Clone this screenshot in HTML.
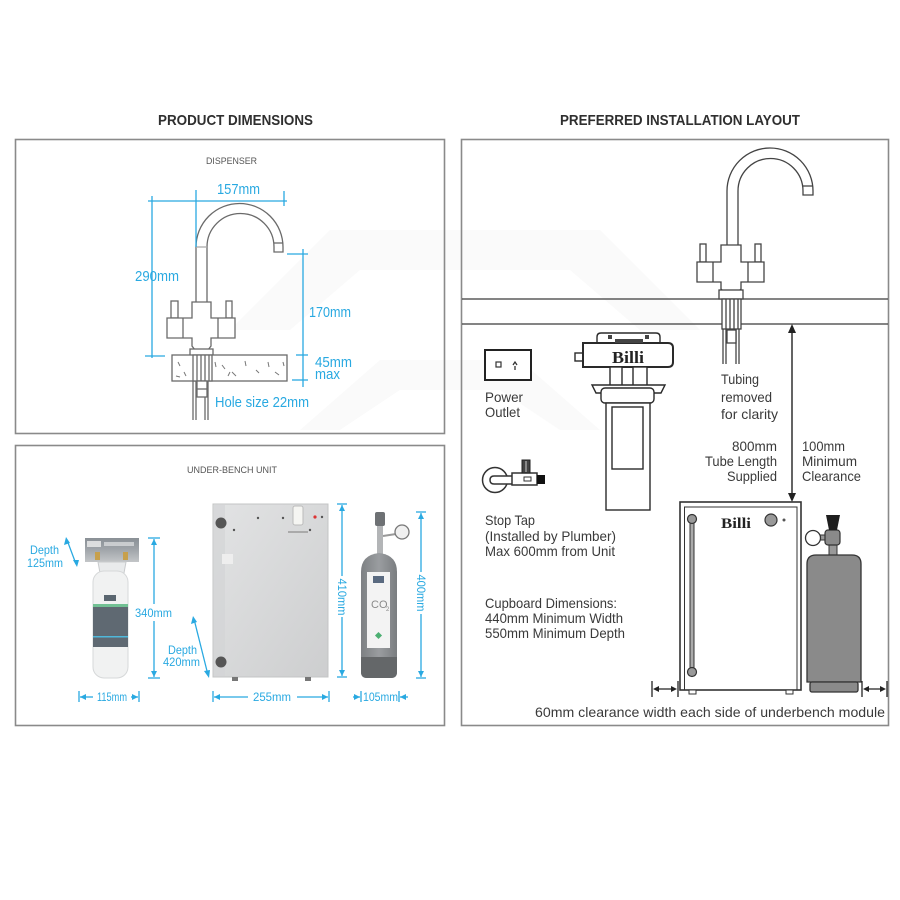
<!DOCTYPE html>
<html><head><meta charset="utf-8"><style>
html,body{margin:0;padding:0;background:#fff;}
svg{display:block}
text{font-family:"Liberation Sans",sans-serif;}
text.serif{font-family:"Liberation Serif",serif;font-weight:bold;}
</style></head><body>
<svg width="900" height="900" viewBox="0 0 900 900" xmlns="http://www.w3.org/2000/svg">
<defs>
<linearGradient id="ug" x1="0" y1="0" x2="1" y2="1">
<stop offset="0" stop-color="#e2e3e4"/><stop offset="1" stop-color="#cdcecf"/></linearGradient>
<linearGradient id="fh" x1="0" y1="0" x2="0" y2="1">
<stop offset="0" stop-color="#8a9096"/><stop offset="0.45" stop-color="#9ea3a8"/><stop offset="1" stop-color="#c3c6c8"/></linearGradient>
<linearGradient id="bt" x1="0" y1="0" x2="1" y2="0">
<stop offset="0" stop-color="#7d8083"/><stop offset="0.5" stop-color="#9a9da0"/><stop offset="1" stop-color="#7a7d80"/></linearGradient>
</defs>

<!-- faint watermark -->
<g fill="#fafafa">
<polygon points="230,330 330,230 600,230 700,330 640,330 570,270 360,270 290,330"/>
<polygon points="300,430 380,360 520,360 600,430 560,430 500,390 400,390 340,430"/>
</g>

<!-- Titles -->
<text x="158" y="125" font-size="15" font-weight="bold" fill="#2f2f2f" textLength="155" lengthAdjust="spacingAndGlyphs">PRODUCT DIMENSIONS</text>
<text x="560" y="125" font-size="15" font-weight="bold" fill="#2f2f2f" textLength="240" lengthAdjust="spacingAndGlyphs">PREFERRED INSTALLATION LAYOUT</text>

<!-- Panels -->
<g fill="none" stroke="#8a8a8a" stroke-width="1.6">
<rect x="15.5" y="139.5" width="429" height="294"/>
<rect x="15.5" y="445.5" width="429" height="280"/>
<rect x="461.5" y="139.5" width="427" height="586"/>
</g>

<!-- ===== DISPENSER ===== -->
<text x="206" y="164" font-size="9.5" fill="#555" textLength="51" lengthAdjust="spacingAndGlyphs">DISPENSER</text>

<g fill="#fff" stroke="#6a6a6a" stroke-width="1.3">
<path d="M196,302 V247 A43.5,43.5 0 0 1 283,247 V252 H274 V247 A33.5,33.5 0 0 0 207,247 V302"/>
<line x1="274" y1="243" x2="283" y2="243"/>
<line x1="196" y1="247" x2="207" y2="247" stroke="#aaa"/>
<rect x="171" y="301" width="7" height="17"/>
<rect x="226" y="301" width="6" height="17"/>
<path d="M192,302 H211 V318 H235 V338 H211 V346 L208,350 H195 L192,346 V338 H167 V318 H192 Z"/>
<line x1="183" y1="318" x2="183" y2="338"/>
<line x1="218" y1="318" x2="218" y2="338"/>
<rect x="190" y="349" width="23" height="7"/>
<rect x="172" y="355" width="115" height="26"/>
<rect x="193" y="355" width="19" height="26"/>
<line x1="197" y1="355" x2="197" y2="381"/>
<line x1="201" y1="355" x2="201" y2="381"/>
<line x1="205" y1="355" x2="205" y2="381"/>
<line x1="209" y1="355" x2="209" y2="381"/>
<line x1="193" y1="381" x2="193" y2="420"/>
<line x1="196" y1="381" x2="196" y2="420"/>
<line x1="205" y1="381" x2="205" y2="420"/>
<line x1="208" y1="381" x2="208" y2="420"/>
<rect x="197" y="381" width="10" height="16"/>
<line x1="197" y1="389" x2="207" y2="389"/>
</g>
<g stroke="#777" stroke-width="1">
<line x1="178" y1="362" x2="180" y2="366"/><line x1="184" y1="372" x2="186" y2="376"/>
<line x1="176" y1="376" x2="180" y2="377"/><line x1="215" y1="362" x2="216" y2="367"/>
<line x1="222" y1="365" x2="225" y2="369"/><line x1="232" y1="372" x2="236" y2="376"/>
<line x1="245" y1="361" x2="246" y2="366"/><line x1="256" y1="370" x2="259" y2="373"/>
<line x1="268" y1="362" x2="269" y2="367"/><line x1="275" y1="372" x2="279" y2="375"/>
<line x1="283" y1="362" x2="284" y2="366"/><line x1="228" y1="376" x2="230" y2="372"/>
</g>

<!-- dispenser dims -->
<g stroke="#29a9e1" stroke-width="1.3" fill="none">
<line x1="148" y1="201" x2="287" y2="201"/>
<line x1="196" y1="190" x2="196" y2="247"/>
<line x1="284" y1="191" x2="284" y2="206"/>
<line x1="152" y1="196" x2="152" y2="358"/>
<line x1="145" y1="356" x2="165" y2="356"/>
<line x1="287" y1="254" x2="308" y2="254"/>
<line x1="303" y1="249" x2="303" y2="387"/>
<line x1="296" y1="355" x2="308" y2="355"/>
<line x1="292" y1="380" x2="308" y2="380"/>
</g>
<g fill="#29a9e1">
<text x="217" y="194" font-size="15" textLength="43" lengthAdjust="spacingAndGlyphs">157mm</text>
<text x="135" y="281" font-size="15" textLength="44" lengthAdjust="spacingAndGlyphs">290mm</text>
<text x="309" y="317" font-size="15" textLength="42" lengthAdjust="spacingAndGlyphs">170mm</text>
<text x="315" y="367" font-size="15" textLength="37" lengthAdjust="spacingAndGlyphs">45mm</text>
<text x="315" y="379" font-size="15" textLength="25" lengthAdjust="spacingAndGlyphs">max</text>
<text x="215" y="407" font-size="15" textLength="94" lengthAdjust="spacingAndGlyphs">Hole size 22mm</text>
</g>

<!-- ===== UNDER-BENCH UNIT ===== -->
<text x="187" y="473" font-size="9.5" fill="#555" textLength="90" lengthAdjust="spacingAndGlyphs">UNDER-BENCH UNIT</text>

<!-- filter photo -->
<rect x="85" y="538" width="54" height="24" fill="url(#fh)"/>
<rect x="87" y="541" width="14" height="6" fill="#eee" opacity="0.8"/>
<rect x="104" y="542" width="30" height="4" fill="#dfe1e3" opacity="0.7"/>
<rect x="95" y="552" width="5" height="8" fill="#c7a04c"/>
<rect x="123" y="552" width="5" height="8" fill="#c7a04c"/>
<path d="M98,562 H126 L124,573 H100 Z" fill="#e9ebec" stroke="#c9cbcd" stroke-width="1"/>
<rect x="93" y="571" width="35" height="107" rx="11" fill="#f1f2f2" stroke="#d6d8d9"/>
<rect x="104" y="595" width="12" height="6" fill="#5a6670"/>
<rect x="93" y="604" width="35" height="3" fill="#72c194"/>
<rect x="93" y="607" width="35" height="40" fill="#5f6972"/>
<rect x="93" y="636" width="35" height="1.5" fill="#4fb8da"/>

<!-- unit photo -->
<rect x="213" y="504" width="115" height="173" fill="url(#ug)" stroke="#c3c4c5"/>
<rect x="214" y="505" width="11" height="171" fill="#d3d4d5" opacity="0.7"/>
<circle cx="221" cy="523" r="5.5" fill="#555"/>
<circle cx="221" cy="662" r="5.5" fill="#555"/>
<rect x="293" y="506" width="10" height="19" rx="2" fill="#f5f5f2" stroke="#bbb"/>
<rect x="222" y="554" width="11" height="10" fill="#eee"/>
<g fill="#555"><circle cx="258" cy="518" r="1.2"/><circle cx="283" cy="518" r="1.2"/><circle cx="234" cy="530" r="1.2"/><circle cx="310" cy="530" r="1.2"/><circle cx="322" cy="517" r="1.2"/></g>
<circle cx="315" cy="517" r="1.6" fill="#d33"/>
<rect x="288" y="531" width="20" height="2" fill="#aaa"/>
<rect x="232" y="677" width="6" height="4" fill="#777"/>
<rect x="305" y="677" width="6" height="4" fill="#777"/>

<!-- CO2 photo -->
<rect x="377" y="524" width="6" height="31" fill="#b3b5b7"/>
<rect x="375" y="512" width="10" height="14" rx="2" fill="#6e7174"/>
<line x1="383" y1="536" x2="396" y2="534" stroke="#999" stroke-width="2"/>
<circle cx="402" cy="532" r="7" fill="#f0f0f0" stroke="#777" stroke-width="1.3"/>
<path d="M361,572 Q361,555 379,553 Q397,555 397,572 V672 Q397,678 391,678 H367 Q361,678 361,672 Z" fill="url(#bt)"/>
<path d="M361,657 H397 V672 Q397,678 391,678 H367 Q361,678 361,672 Z" fill="#646769"/>
<rect x="367" y="572" width="23" height="76" fill="#f3f3f3"/>
<rect x="373" y="576" width="11" height="7" fill="#5a6a80"/>
<text x="371" y="608" font-size="11" fill="#8a8a8a">CO</text>
<text x="386" y="611" font-size="6" fill="#8a8a8a">2</text>
<rect x="376" y="633" width="5" height="5" fill="#4caf72" transform="rotate(45 378.5 635.5)"/>

<!-- bottom-left dims -->
<g stroke="#29a9e1" stroke-width="1.3" fill="none">
<line x1="67" y1="540" x2="76" y2="564"/>
<line x1="154" y1="539" x2="154" y2="604"/>
<line x1="154" y1="621" x2="154" y2="677"/>
<line x1="148" y1="538" x2="160" y2="538"/>
<line x1="148" y1="678" x2="160" y2="678"/>
<line x1="194" y1="619" x2="208" y2="675"/>
<line x1="342" y1="505" x2="342" y2="576"/>
<line x1="342" y1="617" x2="342" y2="676"/>
<line x1="337" y1="504" x2="347" y2="504"/>
<line x1="337" y1="677" x2="347" y2="677"/>
<line x1="421" y1="513" x2="421" y2="572"/>
<line x1="421" y1="614" x2="421" y2="677"/>
<line x1="416" y1="512" x2="426" y2="512"/>
<line x1="416" y1="678" x2="426" y2="678"/>
<line x1="79" y1="691" x2="79" y2="702"/><line x1="139" y1="691" x2="139" y2="702"/>
<line x1="80" y1="697" x2="93" y2="697"/><line x1="131" y1="697" x2="138" y2="697"/>
<line x1="213" y1="691" x2="213" y2="702"/><line x1="329" y1="691" x2="329" y2="702"/>
<line x1="214" y1="697" x2="248" y2="697"/><line x1="297" y1="697" x2="328" y2="697"/>
<line x1="361" y1="691" x2="361" y2="702"/><line x1="399" y1="691" x2="399" y2="702"/>
<line x1="353" y1="697" x2="360" y2="697"/><line x1="400" y1="697" x2="408" y2="697"/>
</g>
<g fill="#29a9e1">
<polygon points="66,537 64,545 70,543"/>
<polygon points="77,567 73,560 79,560"/>
<polygon points="193,616 191,624 197,622"/>
<polygon points="209,678 204,671 210,670"/>
<polygon points="154,539 151,545 157,545"/>
<polygon points="154,677 151,671 157,671"/>
<polygon points="342,505 339,511 345,511"/>
<polygon points="342,676 339,670 345,670"/>
<polygon points="421,513 418,519 424,519"/>
<polygon points="421,677 418,671 424,671"/>
<polygon points="80,697 86,694 86,700"/>
<polygon points="138,697 132,694 132,700"/>
<polygon points="214,697 220,694 220,700"/>
<polygon points="328,697 322,694 322,700"/>
<polygon points="360,697 354,694 354,700"/>
<polygon points="400,697 406,694 406,700"/>
<text x="30" y="554" font-size="12" textLength="29" lengthAdjust="spacingAndGlyphs">Depth</text>
<text x="27" y="567" font-size="12" textLength="36" lengthAdjust="spacingAndGlyphs">125mm</text>
<text x="135" y="617" font-size="12" textLength="37" lengthAdjust="spacingAndGlyphs">340mm</text>
<text x="168" y="654" font-size="12" textLength="29" lengthAdjust="spacingAndGlyphs">Depth</text>
<text x="163" y="666" font-size="12" textLength="37" lengthAdjust="spacingAndGlyphs">420mm</text>
<text x="97" y="701" font-size="12" textLength="30" lengthAdjust="spacingAndGlyphs">115mm</text>
<text x="253" y="701" font-size="12" textLength="38" lengthAdjust="spacingAndGlyphs">255mm</text>
<text x="363" y="701" font-size="12" textLength="35" lengthAdjust="spacingAndGlyphs">105mm</text>
<text transform="translate(342,597) rotate(90)" x="0" y="4" font-size="12" text-anchor="middle" textLength="37" lengthAdjust="spacingAndGlyphs">410mm</text>
<text transform="translate(421,593) rotate(90)" x="0" y="4" font-size="12" text-anchor="middle" textLength="37" lengthAdjust="spacingAndGlyphs">400mm</text>
</g>

<!-- ===== INSTALLATION LAYOUT ===== -->
<g stroke="#3a3a3a" stroke-width="1.3" fill="none">
<line x1="462" y1="299" x2="888" y2="299"/>
<line x1="462" y1="324" x2="888" y2="324"/>
</g>
<!-- right faucet -->
<g fill="#fff" stroke="#444" stroke-width="1.3">
<path d="M727,245 V191 A43,43 0 0 1 813,191 V195 H803 V191 A32.5,32.5 0 0 0 738,191 V245"/>
<line x1="803" y1="186" x2="813" y2="186"/>
<rect x="700" y="244" width="6" height="18"/>
<rect x="755" y="244" width="6" height="18"/>
<path d="M721,245 H741 V262 H764 V282 H741 V289 L739,291 H723 L721,289 V282 H697 V262 H721 Z"/>
<line x1="713" y1="262" x2="713" y2="282"/>
<line x1="748" y1="262" x2="748" y2="282"/>
<rect x="719" y="290" width="24" height="9"/>
<rect x="722" y="299" width="19" height="30"/>
<line x1="726" y1="299" x2="726" y2="329"/>
<line x1="730" y1="299" x2="730" y2="329"/>
<line x1="734" y1="299" x2="734" y2="329"/>
<line x1="738" y1="299" x2="738" y2="329"/>
<line x1="723" y1="329" x2="723" y2="364"/>
<line x1="726" y1="329" x2="726" y2="364"/>
<line x1="736" y1="329" x2="736" y2="364"/>
<line x1="739" y1="329" x2="739" y2="364"/>
<rect x="727" y="330" width="9" height="13"/>
</g>

<!-- power outlet -->
<rect x="485" y="350" width="46" height="30" fill="#fff" stroke="#222" stroke-width="2"/>
<rect x="496" y="362" width="5" height="5" fill="none" stroke="#333" stroke-width="1.2"/>
<path d="M513,365 L515,362 L517,365 M515,366 V370" fill="none" stroke="#333" stroke-width="1.3"/>

<!-- filter -->
<g stroke="#2a2a2a" stroke-width="1.4" fill="#fff">
<path d="M597,343 V337 Q597,333 601,333 H656 Q660,333 660,337 V343"/>
<rect x="575" y="353" width="8" height="8"/>
<path d="M583,343 H668 Q673,343 673,348 V362 Q673,367 668,367 H583 Z" stroke-width="2"/>
<rect x="610" y="367" width="12" height="20"/>
<rect x="633" y="367" width="14" height="20"/>
<path d="M592,385 H665 L661,393 H596 Z"/>
<rect x="601" y="388" width="53" height="15" rx="4"/>
<rect x="606" y="403" width="44" height="107"/>
<rect x="612" y="407" width="31" height="62"/>
</g>
<rect x="615" y="339" width="28" height="4" fill="#444"/>
<g fill="#444"><rect x="608" y="335" width="4" height="4"/><rect x="645" y="335" width="4" height="4"/></g>
<text class="serif" x="628" y="363" font-size="17" fill="#222" text-anchor="middle" textLength="32" lengthAdjust="spacingAndGlyphs">Billi</text>

<!-- stop tap -->
<circle cx="495" cy="480" r="12.5" fill="#fff" stroke="#333" stroke-width="1.5"/>
<path d="M513,476 H494 Q490,476 490,480 Q490,484 494,484 H513" fill="#fff" stroke="#333" stroke-width="1.5"/>
<rect x="512" y="473" width="25" height="12" fill="#fff" stroke="#333" stroke-width="1.5"/>
<rect x="524" y="477" width="7" height="4" fill="none" stroke="#333" stroke-width="1"/>
<rect x="522" y="460" width="8" height="13" fill="#444" stroke="#222"/>
<line x1="526" y1="461" x2="526" y2="472" stroke="#ccc" stroke-width="1"/>
<rect x="537" y="475" width="8" height="9" fill="#111"/>

<!-- big arrow -->
<line x1="792" y1="330" x2="792" y2="496" stroke="#222" stroke-width="1.4"/>
<polygon points="792,324 788,333 796,333" fill="#222"/>
<polygon points="792,502 788,493 796,493" fill="#222"/>

<!-- under-bench unit -->
<rect x="680" y="502" width="121" height="188" fill="#fff" stroke="#333" stroke-width="1.6"/>
<rect x="684.5" y="507" width="112.5" height="183" fill="none" stroke="#333" stroke-width="1"/>
<rect x="690" y="520" width="4" height="152" fill="#aaa" stroke="#333" stroke-width="1"/>
<circle cx="692" cy="519" r="4.5" fill="#999" stroke="#333" stroke-width="1.2"/>
<circle cx="692" cy="672" r="4.5" fill="#999" stroke="#333" stroke-width="1.2"/>
<text class="serif" x="736" y="528" font-size="15" fill="#222" text-anchor="middle" textLength="30" lengthAdjust="spacingAndGlyphs">Billi</text>
<circle cx="771" cy="520" r="6" fill="#999" stroke="#333" stroke-width="1.2"/>
<circle cx="784" cy="520" r="1.5" fill="#555"/>
<rect x="689" y="690" width="7" height="4" fill="#fff" stroke="#333"/>
<rect x="786" y="690" width="7" height="4" fill="#fff" stroke="#333"/>

<!-- CO2 bottle -->
<rect x="829" y="543" width="8" height="12" fill="#999" stroke="#333"/>
<rect x="819" y="535" width="8" height="5" fill="#999" stroke="#333"/>
<circle cx="813" cy="538" r="7.5" fill="#fff" stroke="#333" stroke-width="1.3"/>
<rect x="825" y="530" width="15" height="15" rx="3" fill="#8a8a8a" stroke="#333" stroke-width="1.2"/>
<polygon points="826,515 840,515 837,530 829,530" fill="#1e1e1e"/>
<path d="M807,564 Q807,555 816,555 H852 Q861,555 861,564 V682 H807 Z" fill="#8a8a8a" stroke="#333" stroke-width="1.3"/>
<rect x="810" y="682" width="48" height="10" rx="2" fill="#8a8a8a" stroke="#333" stroke-width="1.3"/>

<!-- clearance arrows -->
<g stroke="#222" stroke-width="1.3">
<line x1="652" y1="681" x2="652" y2="697"/>
<line x1="678" y1="681" x2="678" y2="697"/>
<line x1="655" y1="689" x2="675" y2="689"/>
<line x1="862" y1="681" x2="862" y2="697"/>
<line x1="887" y1="681" x2="887" y2="697"/>
<line x1="865" y1="689" x2="884" y2="689"/>
</g>
<g fill="#222">
<polygon points="653,689 659,686 659,692"/><polygon points="677,689 671,686 671,692"/>
<polygon points="863,689 869,686 869,692"/><polygon points="886,689 880,686 880,692"/>
</g>

<!-- right panel text -->
<g fill="#3a3a3a" font-size="14">
<text x="485" y="402" textLength="38" lengthAdjust="spacingAndGlyphs">Power</text>
<text x="485" y="417" textLength="35" lengthAdjust="spacingAndGlyphs">Outlet</text>
<text x="721" y="384" textLength="38" lengthAdjust="spacingAndGlyphs">Tubing</text>
<text x="721" y="402" textLength="51" lengthAdjust="spacingAndGlyphs">removed</text>
<text x="721" y="419" textLength="57" lengthAdjust="spacingAndGlyphs">for clarity</text>
<text x="732" y="451" textLength="45" lengthAdjust="spacingAndGlyphs">800mm</text>
<text x="705" y="466" textLength="72" lengthAdjust="spacingAndGlyphs">Tube Length</text>
<text x="727" y="481" textLength="50" lengthAdjust="spacingAndGlyphs">Supplied</text>
<text x="802" y="451" textLength="43" lengthAdjust="spacingAndGlyphs">100mm</text>
<text x="802" y="466" textLength="55" lengthAdjust="spacingAndGlyphs">Minimum</text>
<text x="802" y="481" textLength="59" lengthAdjust="spacingAndGlyphs">Clearance</text>
<text x="485" y="525" textLength="50" lengthAdjust="spacingAndGlyphs">Stop Tap</text>
<text x="485" y="541" textLength="131" lengthAdjust="spacingAndGlyphs">(Installed by Plumber)</text>
<text x="485" y="556" textLength="130" lengthAdjust="spacingAndGlyphs">Max 600mm from Unit</text>
<text x="485" y="608" textLength="132" lengthAdjust="spacingAndGlyphs">Cupboard Dimensions:</text>
<text x="485" y="623" textLength="138" lengthAdjust="spacingAndGlyphs">440mm Minimum Width</text>
<text x="485" y="638" textLength="140" lengthAdjust="spacingAndGlyphs">550mm Minimum Depth</text>
<text x="535" y="717" textLength="350" lengthAdjust="spacingAndGlyphs">60mm clearance width each side of underbench module</text>
</g>
</svg>
</body></html>
